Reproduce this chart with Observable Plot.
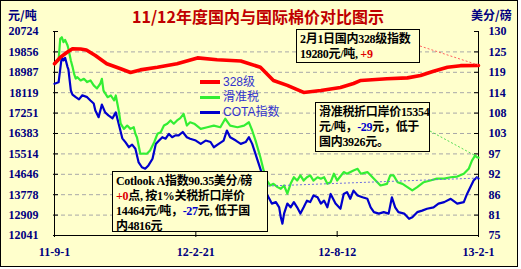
<!DOCTYPE html>
<html><head><meta charset="utf-8">
<script src="https://cdn.jsdelivr.net/npm/d3@7"></script>
<script src="https://cdn.jsdelivr.net/npm/@observablehq/plot@0.6"></script>
<style>
html,body{margin:0;padding:0;background:#fff;}
#wrap{position:relative;width:521px;height:269px;overflow:hidden;}
#frame{position:absolute;left:0;top:0;width:516px;height:265px;border:1px solid #000;background:#FFFFCC;}
#chart{position:absolute;left:0;top:0;}
.t{position:absolute;white-space:nowrap;}
#title{left:0;width:516px;top:5px;text-align:center;font:bold 16px/22px "Noto Sans CJK SC";color:#C00000;}
.unit{top:6px;font:bold 12px/18px "Noto Sans CJK SC";color:#000080;}
.box{position:absolute;background:#FFFFCC;border:1px solid #000;font:bold 12px/15px "Liberation Serif","Noto Sans CJK SC";letter-spacing:-0.3px;color:#000;padding:2px 2px 2px 3px;white-space:nowrap;box-sizing:border-box;overflow:hidden;}
.box div{height:15px;line-height:15px;}
.r{color:#E00000}.b{color:#0000CC}
.leg{position:absolute;left:200px;height:14px;font:12px/14px "Liberation Sans","Noto Sans CJK SC";color:#3333CC;white-space:nowrap;}
.leg i{position:absolute;left:0;width:20px;}
.leg span{position:absolute;left:23px;top:0;}
</style></head>
<body>
<div id="wrap">
  <div id="frame"></div>
  <div id="chart"></div>
  <div id="title" class="t">11/12年度国内与国际棉价对比图示</div>
  <div class="t unit" style="left:8px">元/吨</div>
  <div class="t unit" style="left:471px">美分/磅</div>
  <div id="legend"></div>
  <div class="box" style="left:296px;top:29px;width:124px;height:34px"><div>2月1日国内328级指数</div><div>19280元/吨, <span class="r">+9</span></div></div>
  <div class="box" style="left:315px;top:102px;width:115px;height:50px"><div>滑准税折口岸价15354</div><div>元/吨，<span class="b">-29</span>元，低于</div><div>国内3926元。</div></div>
  <div class="box" style="left:112px;top:171px;width:156px;height:61px"><div>Cotlook A指数90.35美分/磅</div><div><span class="r">+0</span>点, 按1%关税折口岸价</div><div>14464元/吨，<span class="b">-27</span>元, 低于国</div><div>内4816元</div></div>
</div>
<script>
// ---- data ----
const seriesNames = ["328级", "滑准税", "COTA指数"];
const seriesColors = ["#FF0000", "#33EE33", "#0000CC"];

const leftTicks = [20724, 19856, 18987, 18119, 17251, 16383, 15514, 14646, 13778, 12909, 12041];
const rightTicks = [130, 124.5, 119, 113.5, 108, 102.5, 97, 91.5, 86, 80.5, 75];
const rightLabels = ["130", "125", "119", "114", "108", "103", "97", "92", "86", "81", "75"];
const xTickDates = ["2011-09-01", "2012-02-21", "2012-08-12", "2013-02-01"];
const xTickLabels = ["11-9-1", "12-2-21", "12-8-12", "13-2-1"];

const redDates = ["2011-09-01","2011-09-08","2011-09-16","2011-09-23","2011-10-03","2011-10-10","2011-10-21","2011-11-04","2011-11-21","2011-12-03","2011-12-15","2012-01-05","2012-01-29","2012-02-23","2012-03-18","2012-04-16","2012-05-10","2012-05-26","2012-06-12","2012-07-02","2012-07-23","2012-08-16","2012-09-01","2012-09-10","2012-10-12","2012-11-06","2012-11-22","2012-12-08","2012-12-25","2013-01-10","2013-02-01"];
const redValues = [19350,19620,19830,19990,19980,19940,19700,19350,19140,18980,19090,19200,19350,19600,19520,19470,19200,18640,18430,18130,18210,18340,18510,18640,18710,18750,18850,19030,19200,19270,19280];

const greenDates = ["2011-09-01","2011-09-06","2011-09-08","2011-09-10","2011-09-12","2011-09-14","2011-09-17","2011-09-18","2011-09-21","2011-09-23","2011-09-25","2011-09-27","2011-09-29","2011-10-03","2011-10-07","2011-10-11","2011-10-15","2011-10-19","2011-10-23","2011-10-27","2011-10-29","2011-10-31","2011-11-05","2011-11-09","2011-11-13","2011-11-15","2011-11-17","2011-11-19","2011-11-21","2011-11-25","2011-11-29","2011-12-03","2011-12-07","2011-12-09","2011-12-11","2011-12-15","2011-12-19","2011-12-23","2011-12-27","2012-01-01","2012-01-05","2012-01-09","2012-01-13","2012-01-17","2012-01-21","2012-01-25","2012-01-29","2012-02-02","2012-02-06","2012-02-10","2012-02-14","2012-02-19","2012-02-27","2012-03-06","2012-03-14","2012-03-22","2012-03-28","2012-04-03","2012-04-12","2012-04-20","2012-04-26","2012-04-30","2012-05-04","2012-05-10","2012-05-14","2012-05-18","2012-05-22","2012-05-26","2012-05-31","2012-06-04","2012-06-08","2012-06-12","2012-06-16","2012-06-20","2012-06-24","2012-06-28","2012-07-02","2012-07-06","2012-07-10","2012-07-14","2012-07-19","2012-07-23","2012-07-27","2012-07-31","2012-08-04","2012-08-08","2012-08-12","2012-08-20","2012-08-24","2012-09-01","2012-09-06","2012-09-10","2012-09-18","2012-09-26","2012-10-04","2012-10-12","2012-10-16","2012-10-20","2012-10-25","2012-10-31","2012-11-06","2012-11-12","2012-11-18","2012-11-26","2012-12-04","2012-12-12","2012-12-21","2012-12-29","2013-01-06","2013-01-14","2013-01-20","2013-01-24","2013-01-28","2013-01-30","2013-02-01"];
const greenValues = [19350,19490,20410,20480,20270,20370,20130,19990,19490,19230,18920,18720,18780,18640,18710,18570,18640,18430,18300,18500,18710,18210,17930,18000,17790,18000,17650,17280,16800,16580,16720,16580,16650,16370,16210,15520,15530,15520,15660,16010,16370,16440,16720,16800,16940,16800,16940,17040,17220,16720,16860,16800,16580,16650,16720,16650,17010,16720,16650,16720,16860,16510,16090,15370,14810,14380,14170,14240,14100,14030,14170,13820,14240,14520,14380,14600,14380,14520,14600,14380,14520,14460,14520,14240,14310,14670,14380,14740,14670,14810,14880,14670,14740,14460,14170,14240,14600,14600,14310,14240,14100,13960,14100,14310,14380,14460,14460,14520,14550,14670,14880,15230,15450,15370,15354];

const blueDates = ["2011-09-01","2011-09-06","2011-09-09","2011-09-10","2011-09-12","2011-09-14","2011-09-17","2011-09-18","2011-09-21","2011-09-23","2011-09-27","2011-10-01","2011-10-05","2011-10-11","2011-10-15","2011-10-19","2011-10-21","2011-10-25","2011-10-29","2011-11-02","2011-11-06","2011-11-11","2011-11-15","2011-11-19","2011-11-23","2011-11-27","2011-12-01","2011-12-05","2011-12-09","2011-12-13","2011-12-17","2011-12-21","2011-12-25","2011-12-30","2012-01-03","2012-01-07","2012-01-11","2012-01-15","2012-01-19","2012-01-23","2012-01-27","2012-01-31","2012-02-05","2012-02-10","2012-02-14","2012-02-21","2012-02-27","2012-03-04","2012-03-10","2012-03-14","2012-03-20","2012-03-26","2012-03-30","2012-04-03","2012-04-10","2012-04-16","2012-04-22","2012-04-26","2012-04-30","2012-05-04","2012-05-08","2012-05-12","2012-05-16","2012-05-20","2012-05-24","2012-05-29","2012-06-02","2012-06-04","2012-06-06","2012-06-08","2012-06-12","2012-06-16","2012-06-20","2012-06-24","2012-06-28","2012-07-02","2012-07-06","2012-07-10","2012-07-14","2012-07-19","2012-07-23","2012-07-27","2012-07-31","2012-08-04","2012-08-10","2012-08-16","2012-08-20","2012-08-24","2012-08-28","2012-09-01","2012-09-06","2012-09-12","2012-09-18","2012-09-22","2012-09-26","2012-10-02","2012-10-08","2012-10-14","2012-10-18","2012-10-22","2012-10-26","2012-11-02","2012-11-08","2012-11-12","2012-11-18","2012-11-24","2012-11-30","2012-12-08","2012-12-14","2012-12-21","2012-12-29","2013-01-06","2013-01-14","2013-01-18","2013-01-22","2013-01-26","2013-01-30","2013-02-01"];
const blueValues = [115.9,116.3,121.6,123.1,122.2,122.9,120.4,119.8,114.1,113.0,112.3,111.7,112.8,112.3,111.4,110.6,108.7,106.9,110.3,108.2,107.4,106.6,108.2,104.7,101.2,100.1,98.8,99.5,98.4,94.7,93.4,93.0,93.9,95.7,99.7,100.6,101.5,101.1,102.4,101.5,102.0,102.0,102.9,101.5,101.1,100.6,99.7,100.6,100.2,98.8,99.7,100.6,103.3,101.5,100.6,99.7,100.2,101.5,99.7,97.0,94.3,91.6,87.1,85.3,83.6,84.0,82.6,79.9,78.2,80.9,83.6,82.6,84.0,82.6,80.9,82.6,84.4,84.0,85.8,85.3,83.6,84.4,82.6,86.2,83.6,82.2,86.2,86.7,84.9,87.1,85.8,85.3,84.9,82.6,81.3,80.9,81.3,80.9,85.3,82.6,81.3,80.9,79.5,79.9,81.3,81.7,82.2,82.6,83.6,84.0,84.9,83.6,84.0,86.2,88.0,89.8,90.7,90.35];

// ---- build ----
const leftMin = leftTicks[leftTicks.length - 1], leftMax = leftTicks[0];
const rightMin = rightTicks[rightTicks.length - 1], rightMax = rightTicks[0];
const toLeft = v => leftMin + (v - rightMin) * (leftMax - leftMin) / (rightMax - rightMin);
const mk = (ds, vs) => ds.map((d, i) => ({date: new Date(d), value: vs[i]}));
const red = mk(redDates, redValues), green = mk(greenDates, greenValues), blue = mk(blueDates, blueValues);
const xTicks = xTickDates.map(d => new Date(d));
const xLabel = new Map(xTicks.map((d, i) => [+d, xTickLabels[i]]));
const rightPos = rightTicks.map(toLeft);
const rightLabel = new Map(rightPos.map((p, i) => [p, rightLabels[i]]));
const x0 = xTicks[0], x1 = xTicks[xTicks.length - 1];

const chart = Plot.plot({
  width: 521, height: 269,
  marginTop: 31, marginBottom: 34, marginLeft: 54, marginRight: 43,
  style: {background: "transparent", fontFamily: '"Liberation Serif", serif', fontSize: "12px", fontWeight: "bold", color: "#000080", overflow: "visible"},
  x: {type: "utc", domain: [x0, x1], label: null},
  y: {domain: [leftMin, leftMax], label: null},
  marks: [
    Plot.ruleY(leftTicks.slice(1, -1), {stroke: "#a8a8a8", strokeDasharray: "4,3"}),
    Plot.axisY(leftTicks, {anchor: "left", tickSize: 0, tickPadding: 16, label: null, tickFormat: d => String(d)}),
    Plot.axisY(rightPos, {anchor: "right", tickSize: 0, tickPadding: 10, label: null, tickFormat: d => rightLabel.get(d)}),
    Plot.axisX(xTicks, {anchor: "bottom", tickSize: 0, tickPadding: 12, label: null, tickFormat: d => xLabel.get(+d)}),
    Plot.ruleY(leftTicks, {stroke: "#000", insetLeft: -1, insetRight: 420}),
    Plot.ruleY(rightPos, {stroke: "#000", insetLeft: 420}),
    Plot.ruleX(xTicks, {stroke: "#000", insetTop: 200, insetBottom: -2}),
    Plot.ruleX([x0, x1], {stroke: "#000"}),
    Plot.ruleY([leftMin], {stroke: "#000"}),
    Plot.line(blue, {x: "date", y: d => toLeft(d.value), stroke: seriesColors[2], strokeWidth: 2.2}),
    Plot.line(green, {x: "date", y: "value", stroke: seriesColors[1], strokeWidth: 2.2}),
    Plot.line(red, {x: "date", y: "value", stroke: seriesColors[0], strokeWidth: 3.6})
  ]
});
document.getElementById("chart").appendChild(chart);

// connectors from annotation boxes to the last points
const sx = chart.scale("x"), sy = chart.scale("y");
const svg = d3.select(chart);
function connector(px, py, pt, val, color) {
  svg.append("line")
    .attr("x1", px).attr("y1", py)
    .attr("x2", sx.apply(pt.date)).attr("y2", sy.apply(val))
    .attr("stroke", color).attr("stroke-width", 1).attr("stroke-dasharray", "2,2");
}
const lastR = red[red.length - 1], lastG = green[green.length - 1], lastB = blue[blue.length - 1];
connector(420, 46, lastR, lastR.value, "#FF6060");
connector(430, 131, lastG, lastG.value, "#55DD55");
connector(268, 186, lastB, toLeft(lastB.value), "#7070E0");

// legend
const legend = document.getElementById("legend");
seriesNames.forEach((n, i) => {
  const el = document.createElement("div");
  el.className = "leg";
  el.style.top = (75 + i * 15) + "px";
  const h = i === 0 ? 4 : 3;
  el.innerHTML = `<i style="background:${seriesColors[i]};height:${h}px;top:${7 - h / 2}px"></i><span>${n}</span>`;
  legend.appendChild(el);
});
</script>
</body></html>
